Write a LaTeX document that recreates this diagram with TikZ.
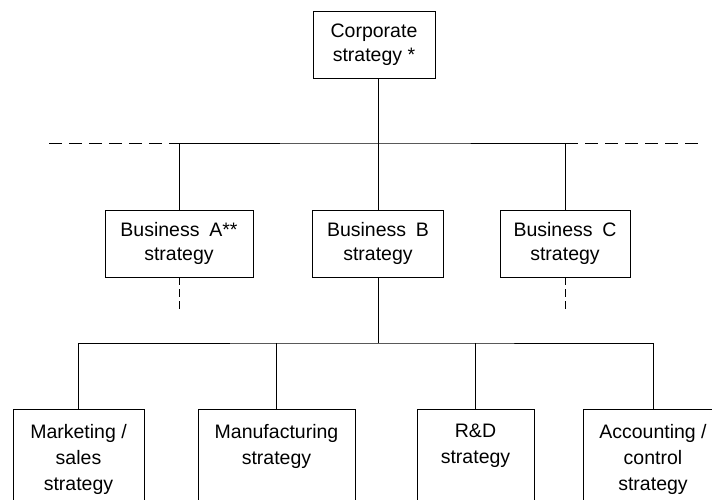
\documentclass[tikz,border=0pt]{standalone}
\usepackage{fontspec}
\setmainfont{Liberation Sans}
\begin{document}
\begin{tikzpicture}[x=1pt,y=-1pt,line width=0.8pt,
        box/.style={draw,rectangle,align=center,minimum height=67pt,inner sep=2pt,font=\fontsize{19.5}{24}\selectfont},
        lowbox/.style={box,anchor=north,minimum height=0pt,text depth=70pt,inner ysep=14.5pt,font=\fontsize{19.5}{26}\selectfont,execute at begin node=\strut},
        hdash/.style={dash pattern=on 13pt off 7pt},
        vdash/.style={dash pattern=on 8pt off 4pt}]
        \clip(0,0)rectangle(712,499);
        \node [box,minimum width=122pt](cs)at(374,44.5){Corporate\\strategy *};
        \node [box,minimum width=148pt](ba)at(179,243.5){Business\enspace A**\\strategy};
        \node [box,minimum width=131pt](bb)at(378,243.5){Business\enspace B\\strategy};
        \node [box,minimum width=130pt](bc)at(565,243.5){Business\enspace C\\strategy};
        \node [lowbox,minimum width=131pt](mk)at(78.5,409){Marketing /\\sales\\strategy};
        \node [lowbox,minimum width=157pt](mf)at(276.5,409){Manufacturing\\strategy};
        \node [lowbox,minimum width=117pt](rd)at(475.5,409){R\&D\\strategy};
        \node [lowbox,minimum width=140pt](ac)at(653,409){Accounting /\\control\\strategy};
        \coordinate(j1)at(378,143);
        \coordinate(dl)at(49,143);
        \coordinate(dr)at(700,143);
        \coordinate(ea)at(179,311);
        \coordinate(ec)at(565,311);
        \coordinate(j2)at(378,343);
        \draw(cs.south -| j1)--(bb.north);
        \draw(ba.north)|-(j1)-|(bc.north);
        \draw[hdash](dl)--(ba.north |- j1);
        \draw[hdash](bc.north |- j1)--(dr);
        \draw[vdash](ba.south)--(ea);
        \draw[vdash](bc.south)--(ec);
        \draw(bb.south)--(j2);
        \draw(mk.north)|-(j2)-|(ac.north);
        \draw(mf.north)--(mf.north |- j2);
        \draw(rd.north)--(rd.north |- j2);
\end{tikzpicture}
\end{document}
